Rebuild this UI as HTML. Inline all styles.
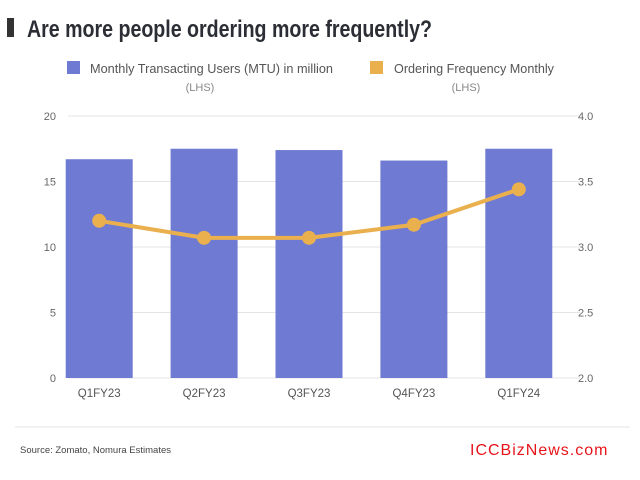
<!DOCTYPE html>
<html><head><meta charset="utf-8"><style>
body{margin:0;width:640px;height:475px;background:#fff;overflow:hidden;font-family:"Liberation Sans",sans-serif}
</style></head><body>
<svg width="640" height="475">
<rect x="7" y="18" width="7" height="19" fill="#333"/>
<text x="27" y="37" font-size="24" font-weight="bold" fill="#2b2e34" textLength="405" lengthAdjust="spacingAndGlyphs">Are more people ordering more frequently?</text>
<g>
<rect x="67" y="61" width="13" height="13" fill="#6f7ad2"/>
<text x="90" y="73" font-size="13" fill="#555" textLength="243" lengthAdjust="spacingAndGlyphs">Monthly Transacting Users (MTU) in million</text>
<text x="200" y="91" font-size="11" fill="#888" text-anchor="middle">(LHS)</text>
<rect x="370" y="61" width="13" height="13" fill="#ebb04e"/>
<text x="394" y="73" font-size="13" fill="#555" textLength="160" lengthAdjust="spacingAndGlyphs">Ordering Frequency Monthly</text>
<text x="466" y="91" font-size="11" fill="#888" text-anchor="middle">(LHS)</text>
</g>
<g id="plot"></g>
<line x1="15" y1="427" x2="630" y2="427" stroke="#e6e6e6"/>
<text x="20" y="453" font-size="9.5" fill="#444">Source: Zomato, Nomura Estimates</text>
<text x="470" y="455" font-size="16" fill="#e8141b" letter-spacing="1">ICCBizNews.com</text>
</svg>
<script>
const categories=["Q1FY23","Q2FY23","Q3FY23","Q4FY23","Q1FY24"];
const mtu=[16.7,17.5,17.4,16.6,17.5];
const freq=[3.2,3.07,3.07,3.17,3.44];
const leftTicks=[0,5,10,15,20];
const rightTicks=["2.0","2.5","3.0","3.5","4.0"];
const NS="http://www.w3.org/2000/svg";
const g=document.getElementById('plot');
const x0=48,x1=570,yTop=116,yBot=378;
const yL=v=>yBot-(v/20)*(yBot-yTop);
const yR=v=>yBot-((v-2)/2)*(yBot-yTop);
const step=(x1-x0)/categories.length;
const xc=i=>x0+step*(i+0.5)+ (i-2)*0.5;
function mk(t,a){const e=document.createElementNS(NS,t);for(const k in a)e.setAttribute(k,a[k]);g.appendChild(e);return e;}
leftTicks.forEach((v,i)=>{
 const l=mk('line',{x1:68,x2:580,y1:yL(v),y2:yL(v),stroke:'#e4e4e4'});
 
 
 const t=mk('text',{x:56,y:yL(v)+4,'font-size':11,fill:'#666','text-anchor':'end'});t.textContent=v;
 
 
 const r=mk('text',{x:578,y:yL(v)+4,'font-size':11,fill:'#666'});r.textContent=rightTicks[i];
 
 
});
categories.forEach((c,i)=>{
 const b=mk('rect',{x:xc(i)-33.5,y:yL(mtu[i]),width:67,height:yBot-yL(mtu[i]),fill:'#6f7ad2'});
 
 
 const t=mk('text',{x:xc(i),y:397,'font-size':11.5,fill:'#555','text-anchor':'middle'});t.textContent=c;
 
 
});
const ln=mk('polyline',{points:freq.map((v,i)=>xc(i)+','+yR(v)).join(' '),fill:'none',stroke:'#ebb04e','stroke-width':4});


freq.forEach((v,i)=>{
 const p=mk('circle',{cx:xc(i),cy:yR(v),r:7,fill:'#ebb04e'});
 
 
});
</script>
</body></html>
